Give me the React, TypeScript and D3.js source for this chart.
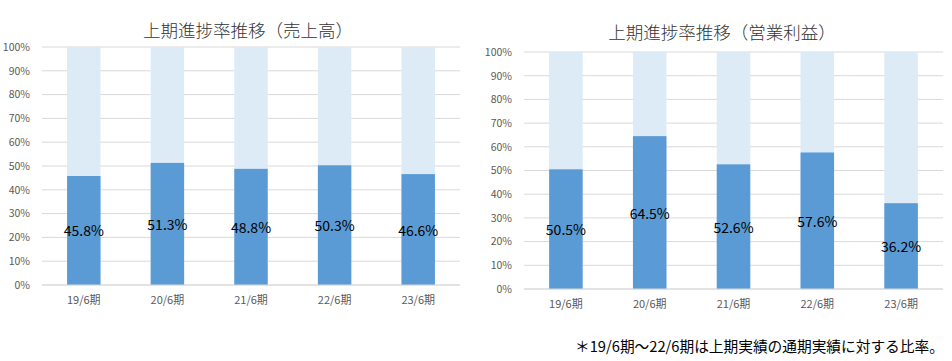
import React, { useEffect, useRef } from "react";
import { select, scaleBand, scaleLinear, axisLeft, axisBottom, range } from "d3";

const categories = ["19/6期", "20/6期", "21/6期", "22/6期", "23/6期"];
const salesRates = [45.8, 51.3, 48.8, 50.3, 46.6];
const profitRates = [50.5, 64.5, 52.6, 57.6, 36.2];
const yTicks = range(0, 101, 10);

const FONT = "'Noto Sans CJK JP', 'Noto Sans', sans-serif";

const panels = [
  { title: "上期進捗率推移（売上高）", values: salesRates, x0: 42, x1: 460, top: 47, bottom: 285, titleX: 248, titleY: 29 },
  { title: "上期進捗率推移（営業利益）", values: profitRates, x0: 524, x1: 943, top: 52, bottom: 289, titleX: 722, titleY: 31 },
];

const Panel = ({ cfg }) => {
  const gRef = useRef();

  useEffect(() => {
    const g = select(gRef.current);
    g.selectAll("*").remove();

    const x = scaleBand()
      .domain(categories)
      .range([cfg.x0, cfg.x1])
      .paddingInner(0.6)
      .paddingOuter(0.3);
    const y = scaleLinear().domain([0, 100]).range([cfg.bottom, cfg.top]);

    // gridlines
    g.append("g")
      .selectAll("line")
      .data(yTicks)
      .join("line")
      .attr("x1", cfg.x0)
      .attr("x2", cfg.x1)
      .attr("y1", d => y(d))
      .attr("y2", d => y(d))
      .attr("stroke", "#d9d9d9")
      .attr("stroke-width", 1);

    // y axis
    const ya = g
      .append("g")
      .attr("transform", `translate(${cfg.x0 - 8},0)`)
      .call(axisLeft(y).tickValues(yTicks).tickFormat(d => `${d}%`).tickSize(0).tickPadding(4));
    ya.select(".domain").remove();
    ya.selectAll("text").attr("fill", "#595959").style("font-size", "10.5px").style("font-family", FONT);

    // background bars (100%)
    g.append("g")
      .selectAll("rect")
      .data(cfg.values)
      .join("rect")
      .attr("x", (_, i) => x(categories[i]))
      .attr("width", x.bandwidth())
      .attr("y", y(100))
      .attr("height", y(0) - y(100))
      .attr("fill", "#ddebf7");

    // value bars
    g.append("g")
      .selectAll("rect")
      .data(cfg.values)
      .join("rect")
      .attr("x", (_, i) => x(categories[i]))
      .attr("width", x.bandwidth())
      .attr("y", d => y(d))
      .attr("height", d => y(0) - y(d))
      .attr("fill", "#5b9bd5");

    // baseline
    g.append("line")
      .attr("x1", cfg.x0)
      .attr("x2", cfg.x1)
      .attr("y1", y(0))
      .attr("y2", y(0))
      .attr("stroke", "#d9d9d9");

    // data labels
    g.append("g")
      .selectAll("text")
      .data(cfg.values)
      .join("text")
      .attr("x", (_, i) => x(categories[i]) + x.bandwidth() / 2)
      .attr("y", d => (y(d) + y(0)) / 2)
      .attr("text-anchor", "middle")
      .attr("dominant-baseline", "central")
      .attr("fill", "#000")
      .style("font-size", "14px")
      .style("font-family", FONT)
      .text(d => `${d.toFixed(1)}%`);

    // x axis
    const xa = g
      .append("g")
      .attr("transform", `translate(0,${cfg.bottom})`)
      .call(axisBottom(x).tickSize(0).tickPadding(11));
    xa.select(".domain").remove();
    xa.selectAll("text").attr("fill", "#595959").style("font-size", "11px").style("font-family", FONT);

    // title
    g.append("text")
      .attr("x", cfg.titleX)
      .attr("y", cfg.titleY)
      .attr("text-anchor", "middle")
      .attr("dominant-baseline", "central")
      .attr("fill", "#333")
      .style("font-size", "17.5px")
      .style("font-weight", 300)
      .style("font-family", FONT)
      .text(cfg.title);
  }, [cfg]);

  return <g ref={gRef} />;
};

export default function App() {
  return (
    <svg
      width={952}
      height={361}
      style={{ position: "absolute", left: 0, top: 0, background: "#fff" }}
    >
      <rect width={952} height={361} fill="#fff" />
      {panels.map(p => (
        <Panel key={p.title} cfg={p} />
      ))}
      <text
        x={575}
        y={345}
        dominantBaseline="central"
        fill="#000"
        style={{ fontSize: "14.7px", fontFamily: FONT }}
      >
        ＊19/6期～22/6期は上期実績の通期実績に対する比率。
      </text>
    </svg>
  );
}
